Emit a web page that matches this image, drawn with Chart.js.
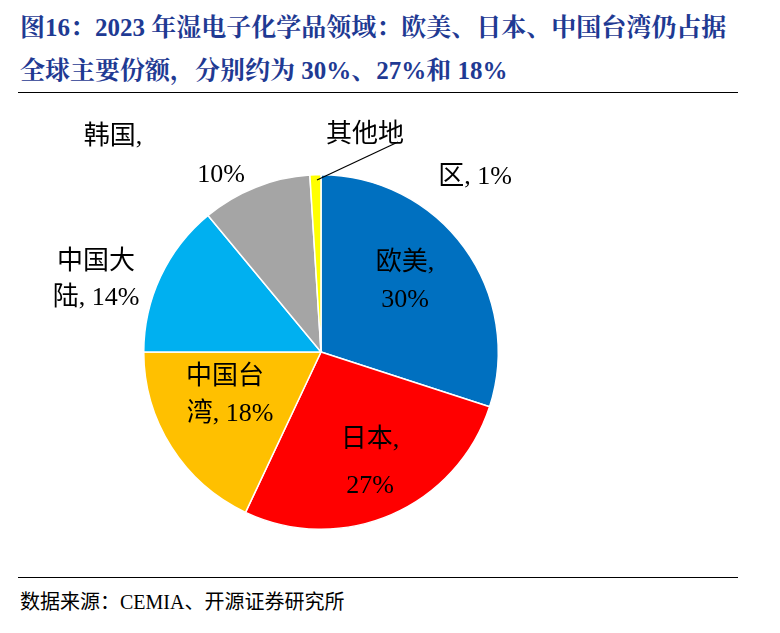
<!DOCTYPE html>
<html><head><meta charset="utf-8">
<script src="https://cdn.jsdelivr.net/npm/chart.js@4"></script>
<style>
body{margin:0;background:#fff;width:780px;height:633px;overflow:hidden;position:relative}
#title{position:absolute;left:20px;top:6px;width:720px;color:#1F3A93;font:bold 25px "Liberation Serif","Noto Serif CJK SC","Noto Sans CJK SC";line-height:43px}
#l1{position:absolute;left:18px;top:92px;width:720px;border-top:1.5px solid #000}
#l2{position:absolute;left:18px;top:577px;width:720px;border-top:1.5px solid #000}
#foot{position:absolute;left:20px;top:586px;font:20px "Liberation Serif","Noto Sans CJK SC";color:#000}
canvas{position:absolute;left:0;top:0}
</style></head><body>
<div id="title">图16：2023 年湿电子化学品领域：欧美、日本、中国台湾仍占据全球主要份额，分别约为 30%、27%和 18%</div>
<div id="l1"></div><div id="l2"></div>
<div id="foot">数据来源：CEMIA、开源证券研究所</div>
<canvas id="c" width="780" height="633"></canvas>
<script>
const regions = ['欧美', '日本', '中国台湾', '中国大陆', '韩国', '其他地区'];
const shares = [30, 27, 18, 14, 10, 1];
const colors = ['#0070C0', '#FF0000', '#FFC000', '#00B0F0', '#A5A5A5', '#FFFF00'];
// label text lines and their positions
const labelLines = [
  ['韩国,', 113, 137], ['10%', 221, 175],
  ['其他地', 365, 135], ['区, 1%', 475, 177],
  ['欧美,', 405, 263], ['30%', 405, 300],
  ['中国大', 96, 262], ['陆, 14%', 96, 298],
  ['中国台', 225, 377], ['湾, 18%', 230, 414],
  ['日本,', 370, 440], ['27%', 370, 486]
];
const labelPlugin = {
  id: 'labels',
  afterDraw(chart) {
    const ctx = chart.ctx;
    ctx.save();
    ctx.strokeStyle = '#000'; ctx.lineWidth = 1.2;
    ctx.beginPath(); ctx.moveTo(317, 180); ctx.lineTo(398, 142); ctx.stroke();
    ctx.fillStyle = '#000';
    ctx.font = '26px "Liberation Serif","Noto Sans CJK SC"';
    ctx.textAlign = 'center'; ctx.textBaseline = 'middle';
    labelLines.forEach(([t, x, y]) => ctx.fillText(t, x, y));
    ctx.restore();
  }
};
new Chart(document.getElementById('c'), {
  type: 'pie',
  data: { labels: regions, datasets: [{ data: shares, backgroundColor: colors, borderColor: '#fff', borderWidth: 1.5 }] },
  options: {
    responsive: false, animation: false,
    layout: { padding: { left: 143, right: 281, top: 174, bottom: 103 } },
    plugins: { legend: { display: false }, tooltip: { enabled: false } }
  },
  plugins: [labelPlugin]
});
</script>
</body></html>
